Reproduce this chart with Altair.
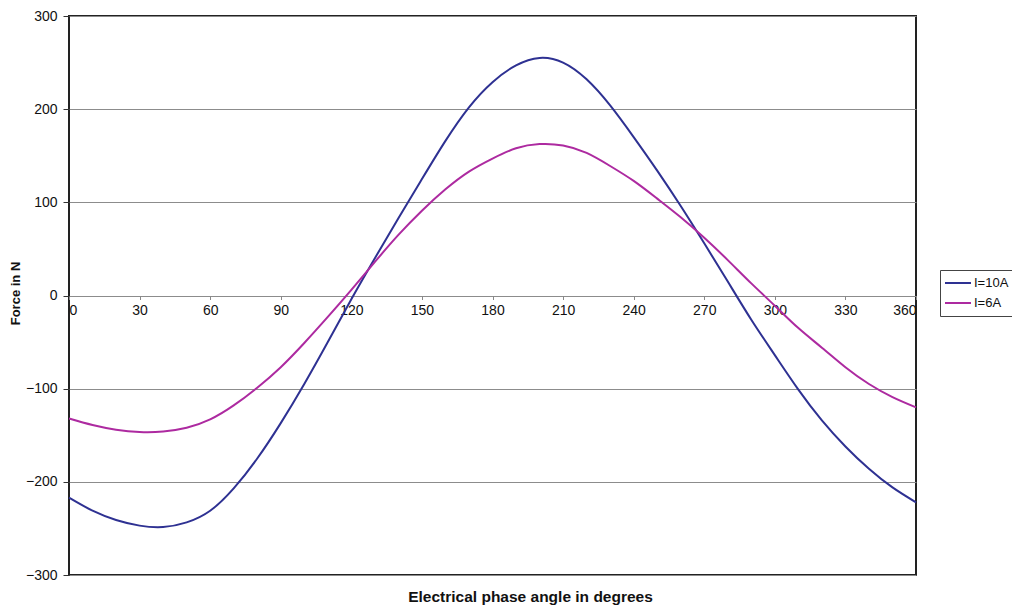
import altair as alt
import pandas as pd

angles = list(range(0, 361, 10))
force_10a = [-217, -231, -241, -247, -248.5, -243.5, -231, -207, -175, -137,
             -95, -50, -4, 40, 83, 125, 166, 202, 229, 247,
             255, 250, 232, 204, 170, 134, 96, 56, 15, -26,
             -64, -101, -134, -162, -186, -206, -222]
force_6a = [-132, -139, -144, -146.5, -146, -142, -133, -118, -99, -77,
            -51, -23, 6, 36, 65, 91, 114, 133, 147, 158,
            162.5, 161, 153, 139, 123, 104, 84, 62, 38, 13,
            -11, -35, -56, -77, -95, -109, -120]
series_names = ["I=10A", "I=6A"]
series_colors = ["#2e3192", "#ad2aa0"]
x_ticks = list(range(0, 361, 30))
y_ticks = list(range(-300, 301, 100))

n = len(angles)
df = pd.DataFrame({
    "angle": angles + angles,
    "force": force_10a + force_6a,
    "series": [series_names[0]] * n + [series_names[1]] * n,
})

FONT = "Liberation Sans"
PLOT_W = 847
PLOT_H = 559

chart = alt.Chart(df).mark_line(interpolate="natural", strokeWidth=2).encode(
    x=alt.X("angle:Q",
            scale=alt.Scale(domain=[0, 360], nice=False, zero=False),
            axis=alt.Axis(values=x_ticks, orient="bottom", offset=-PLOT_H / 2, grid=False,
                          domain=False, tickColor="#888888", tickSize=4, labelPadding=4,
                          labelFont=FONT, labelFontSize=14, labelColor="#111111",
                          title=None)),
    y=alt.Y("force:Q",
            scale=alt.Scale(domain=[-300, 300], nice=False),
            axis=alt.Axis(values=y_ticks, grid=True, gridColor="#8c8c8c", gridWidth=1,
                          domain=False, tickColor="#333333", tickSize=6, labelPadding=6,
                          labelFont=FONT, labelFontSize=14, labelColor="#111111",
                          title="Force in N", titleFont=FONT, titleFontSize=13,
                          titleFontWeight="bold", titleColor="#111111",
                          titleAngle=270, titleAlign="center", titleBaseline="middle",
                          titleX=-54, titleY=277)),
    color=alt.Color("series:N",
                    scale=alt.Scale(domain=series_names, range=series_colors),
                    legend=alt.Legend(title=None, orient="none", legendX=871, legendY=254,
                                      symbolType="stroke", symbolSize=676, clipHeight=18,
                                      symbolStrokeWidth=2, rowPadding=2, padding=4,
                                      strokeColor="#444444", fillColor="white",
                                      labelFont=FONT, labelFontSize=13, labelColor="#111111",
                                      labelOffset=2)),
    order=alt.Order("series:N"),
).properties(
    width=PLOT_W,
    height=PLOT_H,
    title=alt.TitleParams(text="Electrical phase angle in degrees", orient="bottom",
                          anchor="middle", font=FONT, fontSize=15.5, fontWeight="bold",
                          color="#111111", offset=8, dx=38),
    padding={"left": 61, "top": 8, "right": 96, "bottom": 36},
    autosize=alt.AutoSizeParams(type="none"),
).configure_view(stroke="#222222", strokeWidth=2)

chart.save("out.html", embed_options={"renderer": "svg", "actions": False})
